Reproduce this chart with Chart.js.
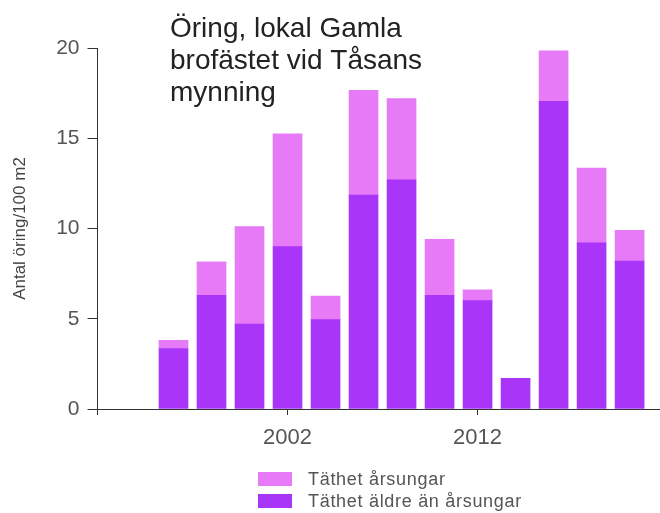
<!DOCTYPE html>
<html lang="sv">
  <head>
    <meta charset="UTF-8" />
    <title>Öring, lokal Gamla brofästet vid Tåsans mynning</title>
    <script src="https://cdn.jsdelivr.net/npm/chart.js"></script>
    <style>
      html, body { margin: 0; padding: 0; background: #fff; }
      #wrap { position: relative; width: 660px; height: 513px; }
      #legend {
        position: absolute; left: 258px; top: 468px;
        font-family: "Liberation Sans", Arial, sans-serif;
        font-size: 18px; letter-spacing: 0.7px; color: #555;
      }
      .item { display: flex; align-items: center; height: 22px; }
      .box { width: 34px; height: 14px; margin-right: 16px; }
    </style>
  </head>
  <body>
    <div id="wrap">
      <canvas id="chart" width="660" height="513"></canvas>
      <div id="legend"></div>
    </div>

    <script>
      // data
      const years = [1996, 1998, 2000, 2002, 2004, 2006, 2008, 2010, 2012, 2014, 2016, 2018, 2020];
      const youngFish = [0.45, 1.85, 5.4, 6.25, 1.3, 5.8, 4.5, 3.1, 0.6, 0, 2.8, 4.15, 1.7];
      const olderFish = [3.35, 6.3, 4.7, 9.0, 4.95, 11.85, 12.7, 6.3, 6.0, 1.7, 17.05, 9.2, 8.2];
      const xTicks = [1992, 2002, 2012];
      const yTicks = [0, 5, 10, 15, 20];
      const titleLines = ["Öring, lokal Gamla", "brofästet vid Tåsans", "mynning"];

      const lightColor = "#e77af7";
      const darkColor = "#a835f8";

      Chart.defaults.font.family = "'Liberation Sans', Arial, sans-serif";
      Chart.defaults.color = "#555";

      // title written inside the plot, top left
      const titlePlugin = {
        id: "titleText",
        afterDraw(chart) {
          const ctx = chart.ctx;
          ctx.save();
          ctx.font = "28px 'Liberation Sans', Arial, sans-serif";
          ctx.fillStyle = "#222";
          ctx.textBaseline = "alphabetic";
          titleLines.forEach((line, i) => {
            ctx.fillText(line, 170, 37 + i * 32);
          });
          ctx.restore();
        },
      };

      const datasets = [
        {
          label: "Täthet äldre än årsungar",
          data: years.map((y, i) => ({ x: y, y: olderFish[i] })),
          backgroundColor: darkColor,
          barThickness: 29,
        },
        {
          label: "Täthet årsungar",
          data: years.map((y, i) => ({ x: y, y: youngFish[i] })),
          backgroundColor: lightColor,
          barThickness: 29,
        },
      ];

      new Chart(document.getElementById("chart"), {
        type: "bar",
        data: { datasets: datasets },
        plugins: [titlePlugin],
        options: {
          responsive: false,
          animation: false,
          layout: { padding: { left: 0, top: 48, right: 0, bottom: 64 } },
          plugins: {
            legend: { display: false },
            tooltip: { enabled: false },
          },
          scales: {
            x: {
              type: "linear",
              stacked: true,
              offset: false,
              min: 1992,
              max: 2021.6,
              afterBuildTicks: (scale) => {
                scale.ticks = xTicks.map((v) => ({ value: v }));
              },
              afterFit: (scale) => { scale.height = 40; },
              ticks: {
                padding: 10,
                font: { size: 22 },
                color: "#555",
                callback: (v) => (v === 1992 ? "" : String(v)),
              },
              grid: {
                offset: false,
                drawOnChartArea: false,
                tickLength: 6,
                tickColor: "#333",
              },
              border: { color: "#333", width: 1 },
            },
            y: {
              stacked: true,
              min: 0,
              max: 20,
              afterBuildTicks: (scale) => {
                scale.ticks = yTicks.map((v) => ({ value: v }));
              },
              afterFit: (scale) => { scale.width = 97.5; },
              ticks: {
                padding: 8,
                font: { size: 21 },
                color: "#555",
              },
              grid: {
                drawOnChartArea: false,
                tickLength: 10,
                tickColor: "#333",
              },
              border: { color: "#333", width: 1 },
              title: {
                display: true,
                text: "Antal öring/100 m2",
                color: "#444",
                font: { size: 17 },
                padding: { top: 10, bottom: 0 },
              },
            },
          },
        },
      });

      // legend below the chart, young fish first as in the original
      const legend = document.getElementById("legend");
      [datasets[1], datasets[0]].forEach((ds) => {
        const item = document.createElement("div");
        item.className = "item";
        const box = document.createElement("span");
        box.className = "box";
        box.style.background = ds.backgroundColor;
        const txt = document.createElement("span");
        txt.textContent = ds.label;
        item.appendChild(box);
        item.appendChild(txt);
        legend.appendChild(item);
      });
    </script>
  </body>
</html>
